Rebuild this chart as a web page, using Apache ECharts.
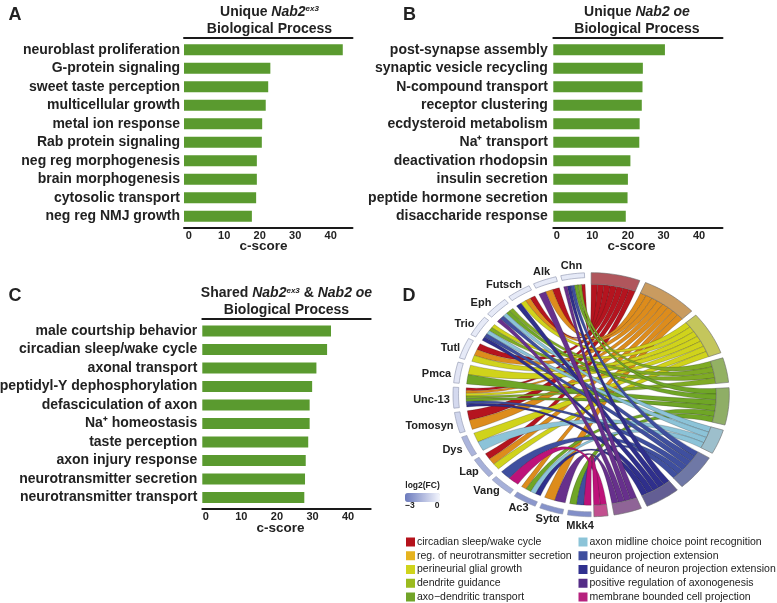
<!DOCTYPE html>
<html>
<head>
<meta charset="utf-8">
<style>
  html, body { margin: 0; padding: 0; background: #fff; }
  #main { width: 777px; height: 603px; }
</style>
<script src="https://cdn.jsdelivr.net/npm/echarts@6/dist/echarts.min.js"></script>
</head>
<body>
<div id="main"></div>
<script>
var namesA = ['neuroblast proliferation', 'G-protein signaling', 'sweet taste perception', 'multicellular growth', 'metal ion response', 'Rab protein signaling', 'neg reg morphogenesis', 'brain morphogenesis', 'cytosolic transport', 'neg reg NMJ growth'];
var scoresA = [43.4, 23.0, 22.4, 21.7, 20.7, 20.6, 19.2, 19.2, 19.0, 17.8];

var namesB = ['post-synapse assembly', 'synaptic vesicle recycling', 'N-compound transport', 'receptor clustering', 'ecdysteroid metabolism', 'Na\u207A transport', 'deactivation rhodopsin', 'insulin secretion', 'peptide hormone secretion', 'disaccharide response'];
var scoresB = [30.4, 24.2, 24.1, 23.9, 23.3, 23.2, 20.7, 20.0, 19.9, 19.4];

var namesC = ['male courtship behavior', 'circadian sleep/wake cycle', 'axonal transport', 'peptidyl-Y dephosphorylation', 'defasciculation of axon', 'Na\u207A homeostasis', 'taste perception', 'axon injury response', 'neurotransmitter secretion', 'neurotransmitter transport'];
var scoresC = [35.2, 34.1, 31.1, 29.9, 29.2, 29.2, 28.8, 28.1, 27.9, 27.7];

var scoreTicks = [0, 10, 20, 30, 40];

// chord panel, genes run clockwise from the bottom
var genes = ['Mkk4', 'Syt\u03B1', 'Ac3', 'Vang', 'Lap', 'Dys', 'Tomosyn', 'Unc-13', 'Pmca', 'Tutl', 'Trio', 'Eph', 'Futsch', 'Alk', 'Chn'];
var geneFC = [-2.5, -2.4, -2.3, -1.7, -1.7, -1.6, -0.8, -0.7, -0.4, -0.3, -0.3, -0.3, -0.3, -0.3, -0.3];
var terms = ['circadian sleep/wake cycle', 'reg. of neurotransmitter secretion', 'perineurial glial growth', 'dendrite guidance', 'axo\u2212dendritic transport', 'axon midline choice point recognition', 'neuron projection extension', 'guidance of neuron projection extension', 'positive regulation of axonogenesis', 'membrane bounded cell projection'];
// term index of each ribbon of a gene, clockwise
var geneTerms = [
    [9, 6, 4],
    [8, 1],
    [7, 5, 4, 1],
    [9, 6],
    [2, 1, 0],
    [5, 2],
    [1, 0],
    [7, 6, 4, 3, 2, 1, 0],
    [4, 2],
    [2, 1, 0],
    [7, 6, 5, 3, 2],
    [8, 6, 5, 4, 3],
    [7, 2, 1, 0],
    [8, 1, 0],
    [8, 7, 6, 4, 3, 0]
];

var ribbonColors = ['#b5141f', '#dd8c1c', '#d0d31b', '#7fab24', '#6fa626', '#8cc3d8', '#3f4f9f', '#2f2f8c', '#67308c', '#bd1279'];
var ringColors = ['#b0565c', '#c99b60', '#c4c65c', '#93b163', '#8fae66', '#9dbfcc', '#6f78a6', '#635e94', '#8f6497', '#c2508f'];
var swatchColors = ['#b5121b', '#e6b31f', '#cfd41c', '#9bbb1f', '#71a429', '#8cc4d8', '#3e4e9e', '#30308f', '#552d87', '#b6227e'];

var FONT = 'Liberation Sans';
var INK = '#222';
var BAR = '#5a9a2f';

var main = document.getElementById('main');
var myChart = echarts.init(main);

// angular layout of the chord panel, degrees clockwise from 12 o'clock
var TERM_SEG = 2.95, TERM_GAP = 2.5;
var GENE_START = 180, GENE_SPAN = 9.9, GENE_GAP = 2.05;
var R_RIBBON = 0.906, R_GENE = 0.96, R_CONTROL = 0.4 * R_RIBBON;

var termCount = terms.map(function () { return 0; });
geneTerms.forEach(function (list) {
    list.forEach(function (t) { termCount[t]++; });
});
var termStart = [];
var angle = 0;
termCount.forEach(function (n, t) {
    termStart[t] = angle;
    angle += n * TERM_SEG + TERM_GAP;
});

function ribbonsOfTerm(t) {
    var out = [];
    // genes from Chn back to Mkk4 so that term slots run against the genes
    var slot = 0;
    for (var g = genes.length - 1; g >= 0; g--) {
        var i = geneTerms[g].indexOf(t);
        if (i >= 0) {
            out.push([g, i, geneTerms[g].length, slot]);
            slot++;
        }
    }
    return out;
}

function onEllipse(api, r, deg) {
    var a = deg * Math.PI / 180;
    return api.coord([r * Math.sin(a), r * Math.cos(a)]);
}

function arcTo(api, r, a0, a1) {
    var s = '';
    var steps = Math.max(2, Math.ceil(Math.abs(a1 - a0) / 1.5));
    for (var i = 0; i <= steps; i++) {
        var p = onEllipse(api, r, a0 + (a1 - a0) * i / steps);
        s += (i === 0 ? 'M' : 'L') + p[0] + ' ' + p[1] + ' ';
    }
    return s;
}

function ringPath(api, a0, a1, rIn, rOut) {
    var outer = arcTo(api, rOut, a0, a1);
    var inner = arcTo(api, rIn, a1, a0).replace('M', 'L');
    return outer + inner + 'Z';
}

function curveTo(api, d0, d1) {
    var c0 = onEllipse(api, R_CONTROL, d0);
    var c1 = onEllipse(api, R_CONTROL, d1);
    var p = onEllipse(api, R_RIBBON, d1);
    return 'C' + c0[0] + ' ' + c0[1] + ' ' + c1[0] + ' ' + c1[1] + ' ' + p[0] + ' ' + p[1] + ' ';
}

function ribbonRender(t) {
    return function (params, api) {
        var g = api.value(0), i = api.value(1), n = api.value(2), slot = api.value(3);
        var g0 = GENE_START + g * (GENE_SPAN + GENE_GAP);
        var a0 = g0 + GENE_SPAN * i / n;
        var a1 = g0 + GENE_SPAN * (i + 1) / n;
        var b0 = termStart[t] + slot * TERM_SEG;
        var b1 = b0 + TERM_SEG;
        var d = arcTo(api, R_RIBBON, a0, a1);
        d += curveTo(api, a1, b0);
        d += arcTo(api, R_RIBBON, b0, b1).replace('M', 'L');
        d += curveTo(api, b1, a0) + 'Z';
        return {
            type: 'path',
            shape: { pathData: d },
            style: { fill: ribbonColors[t], stroke: 'rgba(25,25,25,0.45)', lineWidth: 0.5 },
            silent: true
        };
    };
}

function barAxes(i, min, max) {
    return [{
        type: 'value',
        gridIndex: i,
        position: 'bottom',
        offset: 2,
        min: min,
        max: max,
        startValue: min,
        axisLine: { show: true, onZero: false, lineStyle: { color: '#1a1a1a', width: 2 } },
        axisTick: { show: false },
        splitLine: { show: false },
        axisLabel: {
            customValues: scoreTicks,
            margin: 3,
            color: INK,
            fontFamily: FONT,
            fontWeight: 'bold',
            fontSize: 11
        }
    }, {
        type: 'value',
        gridIndex: i,
        position: 'top',
        offset: 3,
        axisLine: { show: true, onZero: false, lineStyle: { color: '#1a1a1a', width: 2 } },
        axisTick: { show: false },
        axisLabel: { show: false },
        splitLine: { show: false }
    }];
}

function barYAxis(i, names, margin) {
    return {
        type: 'category',
        gridIndex: i,
        inverse: true,
        data: names,
        axisLine: { show: false },
        axisTick: { show: false },
        axisLabel: {
            margin: margin,
            color: INK,
            fontFamily: FONT,
            fontWeight: 'bold',
            fontSize: 14,
            interval: 0
        }
    };
}

function barSeries(xIndex, yIndex, values) {
    return {
        type: 'bar',
        xAxisIndex: xIndex,
        yAxisIndex: yIndex,
        data: values,
        barWidth: 11,
        silent: true,
        itemStyle: { color: BAR }
    };
}

var titleRich = {
    it: { font: 'italic bold 14px ' + FONT, fill: INK },
    sup: { font: 'italic bold 8px ' + FONT, fill: INK, verticalAlign: 'top' },
    rg: { font: 'bold 14px ' + FONT, fill: INK }
};

function textItem(x, y, text, size, rich) {
    var style = {
        text: text,
        font: 'bold ' + size + 'px ' + FONT,
        fill: INK,
        textAlign: 'center',
        textVerticalAlign: 'middle'
    };
    if (rich) {
        style.rich = rich;
    }
    return { type: 'text', x: x, y: y, silent: true, style: style };
}

var annotations = [
    textItem(15, 15, 'A', 18),
    textItem(409.5, 15, 'B', 18),
    textItem(15, 296, 'C', 18),
    textItem(409, 296, 'D', 18),
    textItem(269.5, 12, '{rg|Unique }{it|Nab2}{sup|ex3}', 14, titleRich),
    textItem(269.5, 29, 'Biological Process', 14),
    textItem(637, 12, '{rg|Unique }{it|Nab2 oe}', 14, titleRich),
    textItem(637, 29, 'Biological Process', 14),
    textItem(286.5, 293.5, '{rg|Shared }{it|Nab2}{sup|ex3}{rg| & }{it|Nab2 oe}', 14, titleRich),
    textItem(286.5, 310, 'Biological Process', 14),
    textItem(263.5, 246, 'c-score', 13.5),
    textItem(631.5, 246, 'c-score', 13.5),
    textItem(280.5, 528, 'c-score', 13.5),
    textItem(422.5, 486, 'log2(FC)', 8.5),
    textItem(410, 506, '\u22123', 8.5),
    textItem(437, 506, '0', 8.5)
];

var geneLabelPos = [
    [580, 525.5], [547.5, 518.5], [518.5, 508], [486.5, 490.5], [469, 471.5], [452.5, 449.5], [429.5, 426], [431.5, 399.5],
    [436.5, 374], [450.5, 347.5], [464.5, 323.5], [481, 303], [504, 284.5], [541.5, 272], [571.5, 266]
];
genes.forEach(function (name, i) {
    annotations.push(textItem(geneLabelPos[i][0], geneLabelPos[i][1], name, 11));
});

var series = [
    barSeries(0, 0, scoresA),
    barSeries(2, 1, scoresB),
    barSeries(4, 2, scoresC)
];

terms.forEach(function (name, t) {
    series.push({
        type: 'custom',
        name: name,
        coordinateSystem: 'cartesian2d',
        xAxisIndex: 6,
        yAxisIndex: 3,
        clip: false,
        itemStyle: { color: ribbonColors[t] },
        renderItem: ribbonRender(t),
        data: ribbonsOfTerm(t)
    });
});

series.push({
    type: 'custom',
    name: 'term ring',
    coordinateSystem: 'cartesian2d',
    xAxisIndex: 6,
    yAxisIndex: 3,
    clip: false,
    renderItem: function (params, api) {
        var t = api.value(0);
        var a0 = termStart[t];
        var a1 = a0 + termCount[t] * TERM_SEG;
        return {
            type: 'path',
            shape: { pathData: ringPath(api, a0, a1, R_RIBBON, 1) },
            style: { fill: ringColors[t], stroke: '#6a6a6a', lineWidth: 0.6 },
            silent: true
        };
    },
    data: terms.map(function (n, t) { return [t, termCount[t]]; })
});

var ringSeriesIndex = series.length;
series.push({
    type: 'custom',
    name: 'gene ring',
    coordinateSystem: 'cartesian2d',
    xAxisIndex: 6,
    yAxisIndex: 3,
    clip: false,
    renderItem: function (params, api) {
        var g = api.value(0);
        var a0 = GENE_START + g * (GENE_SPAN + GENE_GAP);
        return {
            type: 'path',
            shape: { pathData: ringPath(api, a0, a0 + GENE_SPAN, R_GENE, 1) },
            style: { fill: api.visual('color'), stroke: '#8d93ad', lineWidth: 0.6 },
            silent: true
        };
    },
    data: genes.map(function (n, g) { return [g, geneFC[g]]; })
});

function legendRow(from, to) {
    return terms.slice(from, to).map(function (name, i) {
        return { name: name, icon: 'rect', itemStyle: { color: swatchColors[from + i], borderWidth: 0 } };
    });
}

function legendBlock(left, from, to) {
    return {
        orient: 'vertical',
        left: left,
        top: 536.5,
        height: 90,
        padding: 0,
        itemWidth: 9,
        itemHeight: 9,
        itemGap: 2.75,
        selectedMode: false,
        textStyle: { color: '#222', fontFamily: FONT, fontSize: 10.5, padding: [0, 0, 0, -3] },
        data: legendRow(from, to)
    };
}

var option = {
    animation: false,
    backgroundColor: '#fff',
    grid: [
        { left: 184, top: 40.4, width: 168.5, height: 185, outerBoundsMode: 'none' },
        { left: 553.3, top: 40.4, width: 169.2, height: 185, outerBoundsMode: 'none' },
        { left: 202.3, top: 321.8, width: 168.4, height: 185, outerBoundsMode: 'none' },
        { left: 453, top: 272.7, width: 276.3, height: 244, outerBoundsMode: 'none' }
    ],
    xAxis: barAxes(0, -1.32, 46.14)
        .concat(barAxes(1, -0.955, 46.57))
        .concat(barAxes(2, -0.955, 46.35))
        .concat([{ type: 'value', gridIndex: 3, min: -1, max: 1, show: false }]),
    yAxis: [
        barYAxis(0, namesA, 4),
        barYAxis(1, namesB, 5.5),
        barYAxis(2, namesC, 5),
        { type: 'value', gridIndex: 3, min: -1, max: 1, show: false }
    ],
    visualMap: {
        type: 'continuous',
        seriesIndex: ringSeriesIndex,
        dimension: 1,
        min: -3,
        max: 0,
        orient: 'horizontal',
        left: 405,
        top: 493,
        padding: 0,
        itemWidth: 9,
        itemHeight: 35,
        calculable: false,
        realtime: false,
        inRange: { color: ['#6b7abd', '#f4f6fd'] }
    },
    legend: [legendBlock(406, 0, 5), legendBlock(578.5, 5, 10)],
    graphic: annotations,
    series: series
};

myChart.setOption(option);
</script>
</body>
</html>
